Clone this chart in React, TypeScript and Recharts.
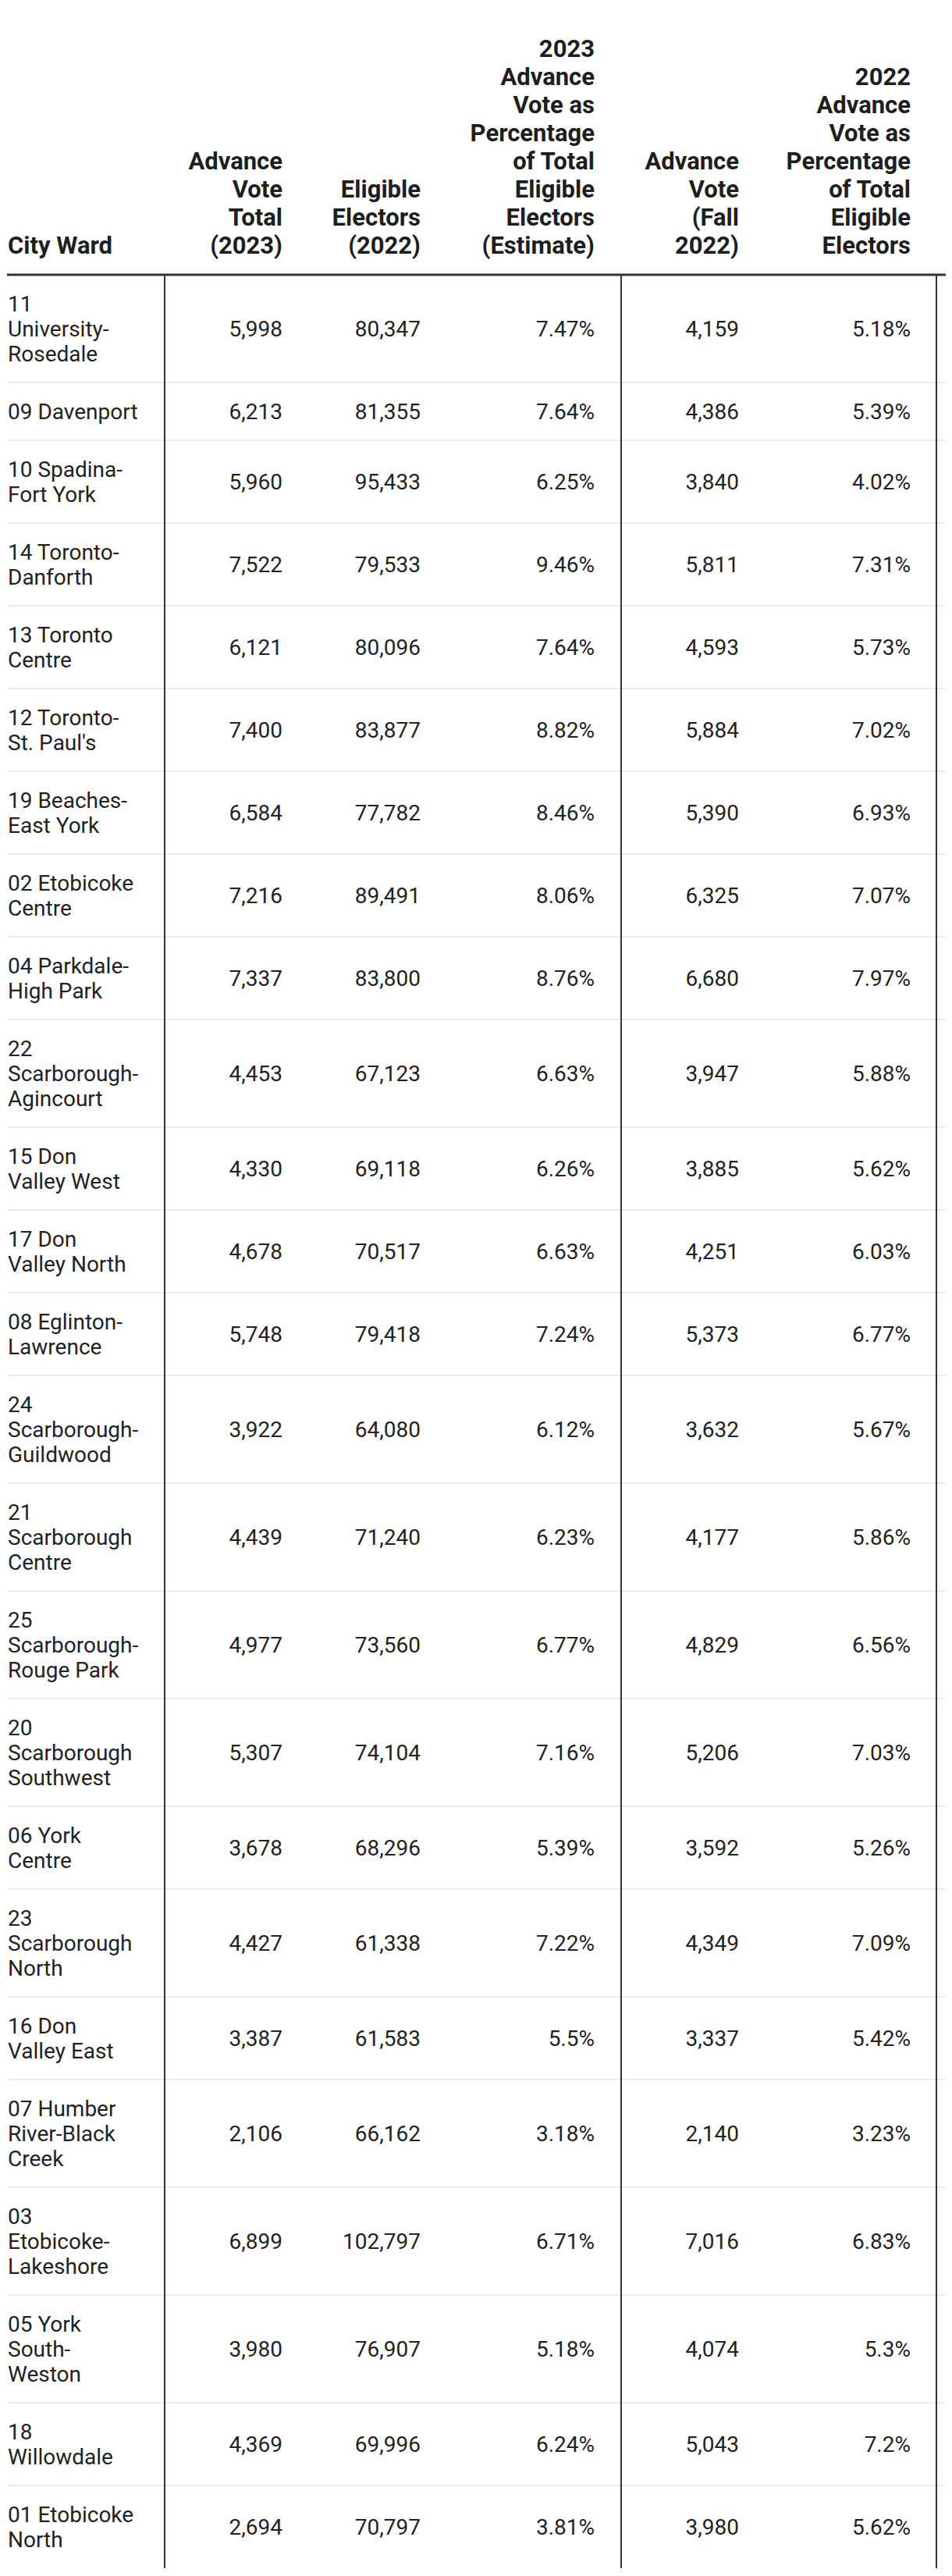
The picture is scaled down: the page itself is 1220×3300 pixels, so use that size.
import { ScatterChart, Scatter, XAxis, YAxis, ReferenceLine } from "recharts";

const W = 1220;
const H = 3300;
const FONT = "Roboto, 'Noto Sans', sans-serif";
const HEADER_BOTTOM = 352;
const HEADER_BASELINE = 325;
const HEADER_LINE = 36;
const LINE_H = 32;
const PAD = 21;
const RULE_LEFT = 9;
const RULE_RIGHT = 1212;
const DIVIDERS = [211, 796, 1200];
// right edge of each column (first one is left-aligned)
const COL_X = [10, 362, 539, 762, 947, 1167];

const columnTitles = [
  ["City Ward"],
  ["Advance", "Vote", "Total", "(2023)"],
  ["Eligible", "Electors", "(2022)"],
  ["2023", "Advance", "Vote as", "Percentage", "of Total", "Eligible", "Electors", "(Estimate)"],
  ["Advance", "Vote", "(Fall", "2022)"],
  ["2022", "Advance", "Vote as", "Percentage", "of Total", "Eligible", "Electors"],
];

const wards = [
  "11\nUniversity-\nRosedale",
  "09 Davenport",
  "10 Spadina-\nFort York",
  "14 Toronto-\nDanforth",
  "13 Toronto\nCentre",
  "12 Toronto-\nSt. Paul's",
  "19 Beaches-\nEast York",
  "02 Etobicoke\nCentre",
  "04 Parkdale-\nHigh Park",
  "22\nScarborough-\nAgincourt",
  "15 Don\nValley West",
  "17 Don\nValley North",
  "08 Eglinton-\nLawrence",
  "24\nScarborough-\nGuildwood",
  "21\nScarborough\nCentre",
  "25\nScarborough-\nRouge Park",
  "20\nScarborough\nSouthwest",
  "06 York\nCentre",
  "23\nScarborough\nNorth",
  "16 Don\nValley East",
  "07 Humber\nRiver-Black\nCreek",
  "03\nEtobicoke-\nLakeshore",
  "05 York\nSouth-\nWeston",
  "18\nWillowdale",
  "01 Etobicoke\nNorth",
];

const advance2023 = [5998, 6213, 5960, 7522, 6121, 7400, 6584, 7216, 7337, 4453, 4330, 4678, 5748, 3922, 4439, 4977, 5307, 3678, 4427, 3387, 2106, 6899, 3980, 4369, 2694];
const eligible2022 = [80347, 81355, 95433, 79533, 80096, 83877, 77782, 89491, 83800, 67123, 69118, 70517, 79418, 64080, 71240, 73560, 74104, 68296, 61338, 61583, 66162, 102797, 76907, 69996, 70797];
const pct2023 = [7.47, 7.64, 6.25, 9.46, 7.64, 8.82, 8.46, 8.06, 8.76, 6.63, 6.26, 6.63, 7.24, 6.12, 6.23, 6.77, 7.16, 5.39, 7.22, 5.5, 3.18, 6.71, 5.18, 6.24, 3.81];
const advance2022 = [4159, 4386, 3840, 5811, 4593, 5884, 5390, 6325, 6680, 3947, 3885, 4251, 5373, 3632, 4177, 4829, 5206, 3592, 4349, 3337, 2140, 7016, 4074, 5043, 3980];
const pct2022 = [5.18, 5.39, 4.02, 7.31, 5.73, 7.02, 6.93, 7.07, 7.97, 5.88, 5.62, 6.03, 6.77, 5.67, 5.86, 6.56, 7.03, 5.26, 7.09, 5.42, 3.23, 6.83, 5.3, 7.2, 5.62];

const fmtInt = (v: number) => v.toLocaleString("en-US");
const fmtPct = (v: number) => `${v}%`;

// row geometry follows the number of lines in the ward label
let cursor = HEADER_BOTTOM;
const rows = wards.map((w) => {
  const n = w.split("\n").length;
  const h = PAD * 2 + LINE_H * n;
  const r = { top: cursor, mid: cursor + h / 2, bottom: cursor + h };
  cursor += h;
  return r;
});
const tableBottom = cursor;

const columns: string[][] = [
  wards,
  advance2023.map(fmtInt),
  eligible2022.map(fmtInt),
  pct2023.map(fmtPct),
  advance2022.map(fmtInt),
  pct2022.map(fmtPct),
];

function CellText(props: any) {
  const { cx, cy, payload } = props;
  const lines: string[] = payload.text.split("\n");
  const n = lines.length;
  const anchor = payload.col === 0 ? "start" : "end";
  return (
    <text textAnchor={anchor} fontSize={28} fill="#222" fontFamily={FONT}>
      {lines.map((l, i) => (
        <tspan key={i} x={cx} y={cy + 10 + LINE_H * (i - (n - 1) / 2)}>
          {l}
        </tspan>
      ))}
    </text>
  );
}

function HeaderText(props: any) {
  const { cx, cy, payload } = props;
  const lines: string[] = payload.lines;
  const n = lines.length;
  const anchor = payload.col === 0 ? "start" : "end";
  return (
    <text textAnchor={anchor} fontSize={31} fontWeight={700} fill="#1e1e1e" fontFamily={FONT}>
      {lines.map((l, i) => (
        <tspan key={i} x={cx} y={cy - HEADER_LINE * (n - 1 - i)}>
          {l}
        </tspan>
      ))}
    </text>
  );
}

const headerData = columnTitles.map((lines, col) => ({ x: COL_X[col], y: HEADER_BASELINE, lines, col }));

export default function App() {
  return (
    <div style={{ position: "absolute", left: 0, top: 0, width: W, height: H, background: "#fff" }}>
      <ScatterChart width={W} height={H} margin={{ top: 0, right: 0, bottom: 0, left: 0 }}>
        <XAxis type="number" dataKey="x" domain={[0, W]} hide />
        <YAxis type="number" dataKey="y" domain={[0, H]} reversed hide />
        {rows.slice(0, -1).map((r, i) => (
          <ReferenceLine
            key={`sep${i}`}
            segment={[{ x: RULE_LEFT + 1, y: r.bottom }, { x: RULE_RIGHT, y: r.bottom }]}
            stroke="#ebebeb"
            strokeWidth={2}
          />
        ))}
        {DIVIDERS.map((x) => (
          <ReferenceLine
            key={`div${x}`}
            segment={[{ x, y: HEADER_BOTTOM }, { x, y: tableBottom }]}
            stroke="#333"
            strokeWidth={2}
          />
        ))}
        <ReferenceLine
          segment={[{ x: RULE_LEFT, y: HEADER_BOTTOM }, { x: RULE_RIGHT, y: HEADER_BOTTOM }]}
          stroke="#333"
          strokeWidth={3}
        />
        <Scatter data={headerData} shape={HeaderText} isAnimationActive={false} />
        {columns.map((vals, col) => (
          <Scatter
            key={col}
            data={vals.map((text, i) => ({ x: COL_X[col], y: rows[i].mid, text, col }))}
            shape={CellText}
            isAnimationActive={false}
          />
        ))}
      </ScatterChart>
    </div>
  );
}
